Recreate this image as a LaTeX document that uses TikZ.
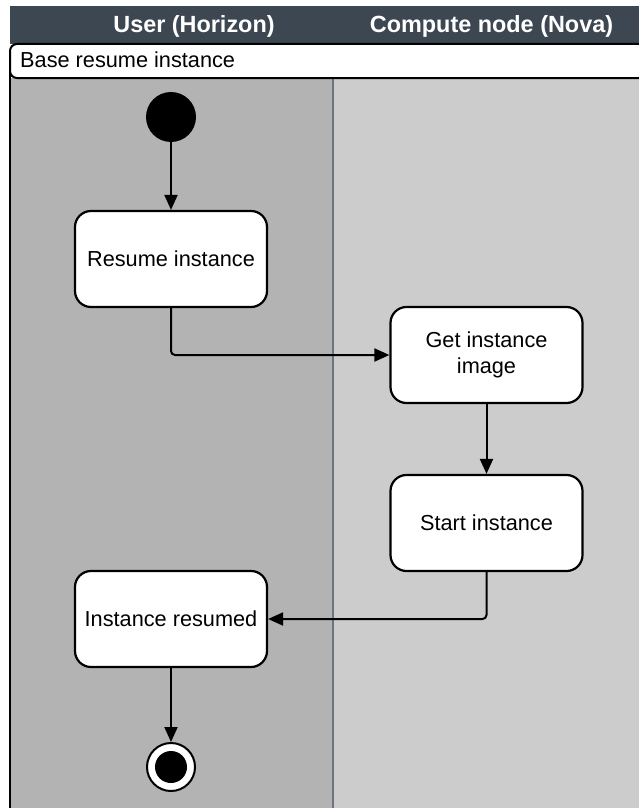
\documentclass[tikz,border=0pt]{standalone}
\usepackage{fontspec}
\setmainfont{Liberation Sans}
\usetikzlibrary{arrows.meta}
\definecolor{hdr}{HTML}{3D4752}
\definecolor{laneA}{HTML}{B3B3B3}
\definecolor{laneB}{HTML}{CCCCCC}
\definecolor{divc}{HTML}{6B7480}
\tikzset{
  act/.style={draw=black, line width=2.2bp, fill=white, rounded corners=16bp,
    minimum width=192bp, minimum height=96bp, align=center, font=\fontsize{21.8}{26}\selectfont, inner sep=0pt},
  flow/.style={draw=black, line width=2bp, -{Triangle[length=15bp,width=13bp]}},
  hdrtext/.style={text=white, font=\bfseries\fontsize{23.5}{26}\selectfont},
}
\begin{document}
\begin{tikzpicture}[x=1bp,y=-1bp]
\useasboundingbox (0,0) rectangle (639,808);
% lanes
\fill[laneA] (10,78) rectangle (333,808);
\fill[laneB] (333,78) rectangle (639,808);
\draw[divc, line width=1.2bp] (333,78) -- (333,808);
% header
\fill[hdr] (10,6) rectangle (639,44);
\node[hdrtext] (h1) at (194,26) {User (Horizon)};
\node[hdrtext] (h2) at (491.5,26) {Compute node (Nova)};
% title bar
\draw[black, line width=2bp, fill=white, rounded corners=7bp] (640,78) -- (10,78) -- (10,44) -- (642,44);
\draw[black, line width=2bp] (10,70) -- (10,808);
\node[anchor=west, font=\fontsize{21.8}{26}\selectfont, inner sep=0pt] (title) at (20,60) {Base resume instance};
% nodes
\node[circle, fill=black, minimum size=50bp, inner sep=0pt] (start) at (171,117) {};
\node[act] (resume) at (171,259) {Resume instance};
\node[act] (getimg) at (486.5,355) {Get instance\\image};
\node[act] (startinst) at (486.5,523) {Start instance};
\node[act] (resumed) at (171,619) {Instance resumed};
\node[circle, draw=black, line width=2bp, fill=white, minimum size=48bp, inner sep=0pt] (end) at (171,767) {};
\node[circle, fill=black, minimum size=32bp, inner sep=0pt] (endin) at (171,767) {};
% flows
\draw[flow] (start) -- (resume);
\draw[flow, rounded corners=4bp] (resume.south) |- (getimg.west);
\draw[flow] (getimg) -- (startinst);
\draw[flow, rounded corners=4bp] (startinst.south) |- (resumed.east);
\draw[flow] (resumed) -- (end);
\end{tikzpicture}
\end{document}
